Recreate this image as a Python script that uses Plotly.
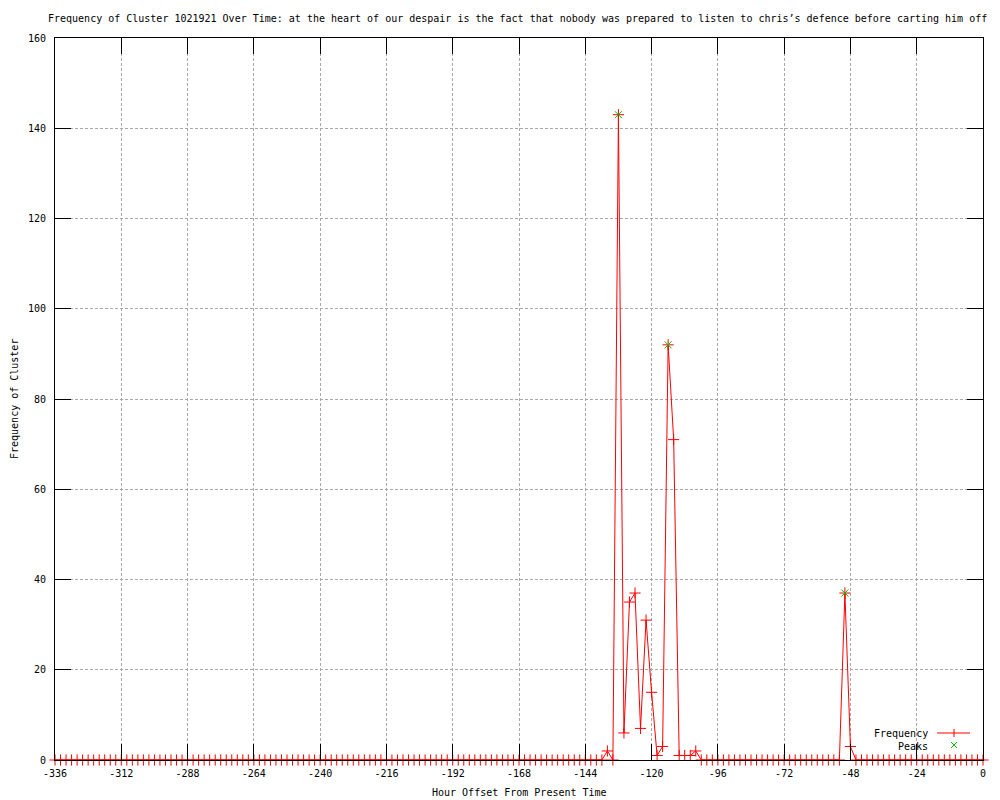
import plotly.graph_objects as go

# ---------------- data ----------------
hours = list(range(-336, 1, 2))  # one sample every 2 hours

frequency = [
    0, 0, 0, 0, 0, 0, 0, 0, 0, 0, 0, 0, 0, 0, 0, 0, 0, 0, 0, 0,   # -336 .. -298
    0, 0, 0, 0, 0, 0, 0, 0, 0, 0, 0, 0, 0, 0, 0, 0, 0, 0, 0, 0,   # -296 .. -258
    0, 0, 0, 0, 0, 0, 0, 0, 0, 0, 0, 0, 0, 0, 0, 0, 0, 0, 0, 0,   # -256 .. -218
    0, 0, 0, 0, 0, 0, 0, 0, 0, 0, 0, 0, 0, 0, 0, 0, 0, 0, 0, 0,   # -216 .. -178
    0, 0, 0, 0, 0, 0, 0, 0, 0, 0, 0, 0, 0, 0, 0, 0, 0, 0, 0, 0,   # -176 .. -138
    2, 0, 143, 6, 35, 37, 7, 31, 15, 1, 3, 92, 71, 1, 1, 1, 2,    # -136 .. -104
    0, 0, 0, 0, 0, 0, 0, 0, 0, 0, 0, 0, 0, 0, 0, 0, 0, 0, 0, 0,   # -102 .. -64
    0, 0, 0, 0, 0, 0,                                             # -62 .. -52
    37, 3,                                                        # -50, -48
    0, 0, 0, 0, 0, 0, 0, 0, 0, 0, 0, 0, 0, 0, 0, 0, 0, 0, 0, 0,   # -46 .. -8
    0, 0, 0, 0,                                                   # -6 .. 0
]
assert len(frequency) == len(hours)

peak_hours = [-132, -114, -50]
peak_values = [143, 92, 37]

xtick_vals = [-336, -312, -288, -264, -240, -216, -192, -168, -144, -120, -96, -72, -48, -24, 0]
xtick_text = ["-336", "-312", "-288", "-264", "-240", "-216", "-192", "-168", "-144",
              "-120", "-96", "-72", "-48", "-24", "0"]
ytick_vals = [0, 20, 40, 60, 80, 100, 120, 140, 160]
ytick_text = ["0", "20", "40", "60", "80", "100", "120", "140", "160"]

title_text = ("Frequency of Cluster 1021921 Over Time: at the heart of our despair is the fact "
              "that nobody was prepared to listen to chris\u2019s defence before carting him off")
x_title = "Hour Offset From Present Time"
y_title = "Frequency of Cluster"
legend_names = ["Frequency", "Peaks"]

# ---------------- style ----------------
FONT = "DejaVu Sans Mono"
RED = "#ff0000"
GREEN = "#00c000"
W, H = 1000, 800
L, R, T, B = 55, 17, 38, 40
PW, PH = W - L - R, H - T - B


def px_x(p):
    return (p - L) / PW


def px_y(p):
    return (H - B - p) / PH


fig = go.Figure()

fig.add_trace(go.Scatter(
    x=hours, y=frequency, mode="lines+markers", name=legend_names[0],
    line=dict(color=RED, width=1),
    marker=dict(symbol="cross-thin", size=8, line=dict(color=RED, width=1), color=RED),
    cliponaxis=False, showlegend=False,
))
fig.add_trace(go.Scatter(
    x=peak_hours, y=peak_values, mode="markers", name=legend_names[1],
    marker=dict(symbol="x-thin", size=7, line=dict(color=GREEN, width=1), color=GREEN),
    cliponaxis=False, showlegend=False,
))

axis_common = dict(
    showline=True, linecolor="black", linewidth=1, mirror="ticks",
    ticks="inside", ticklen=16, tickcolor="black", tickwidth=1,
    showgrid=True, gridcolor="#a8a8a8", gridwidth=1, griddash="3px,2px",
    zeroline=False, tickfont=dict(family=FONT, size=10, color="black"),
)

fig.update_layout(
    width=W, height=H,
    margin=dict(l=L, r=R, t=T, b=B, pad=0),
    paper_bgcolor="white", plot_bgcolor="white",
    font=dict(family=FONT, size=10, color="black"),
    xaxis=dict(range=[-336, 0], tickmode="array", tickvals=xtick_vals, ticktext=xtick_text,
               ticklabelstandoff=4, **axis_common),
    yaxis=dict(range=[0, 160], tickmode="array", tickvals=ytick_vals, ticktext=ytick_text,
               ticklabelstandoff=6, **axis_common),
    showlegend=False,
)

annotations = [
    dict(text=title_text, x=px_x(517), y=px_y(18), xref="paper", yref="paper",
         xanchor="center", yanchor="middle", showarrow=False,
         font=dict(family=FONT, size=10, color="black")),
    dict(text=x_title, x=px_x(519), y=px_y(792), xref="paper", yref="paper",
         xanchor="center", yanchor="middle", showarrow=False,
         font=dict(family=FONT, size=10, color="black")),
    dict(text=y_title, x=px_x(14), y=px_y(399), xref="paper", yref="paper",
         xanchor="center", yanchor="middle", showarrow=False, textangle=-90,
         font=dict(family=FONT, size=10, color="black")),
    dict(text=legend_names[0], x=px_x(930), y=px_y(733), xref="paper", yref="paper",
         xanchor="right", yanchor="middle", showarrow=False,
         font=dict(family=FONT, size=10, color="black")),
    dict(text=legend_names[1], x=px_x(930), y=px_y(746), xref="paper", yref="paper",
         xanchor="right", yanchor="middle", showarrow=False,
         font=dict(family=FONT, size=10, color="black")),
]
fig.update_layout(annotations=annotations)

# legend keys (drawn as shapes in paper space)
shapes = [
    dict(type="line", xref="paper", yref="paper", x0=px_x(937), x1=px_x(970),
         y0=px_y(733), y1=px_y(733), line=dict(color=RED, width=1)),
    dict(type="line", xref="paper", yref="paper", x0=px_x(954), x1=px_x(954),
         y0=px_y(729), y1=px_y(737), line=dict(color=RED, width=1)),
    dict(type="line", xref="paper", yref="paper", x0=px_x(951), x1=px_x(957),
         y0=px_y(742), y1=px_y(748), line=dict(color=GREEN, width=1)),
    dict(type="line", xref="paper", yref="paper", x0=px_x(951), x1=px_x(957),
         y0=px_y(748), y1=px_y(742), line=dict(color=GREEN, width=1)),
]
fig.update_layout(shapes=shapes)

fig.write_html("out.html", config={"displayModeBar": False},
               post_script="document.body.style.margin='0';")
